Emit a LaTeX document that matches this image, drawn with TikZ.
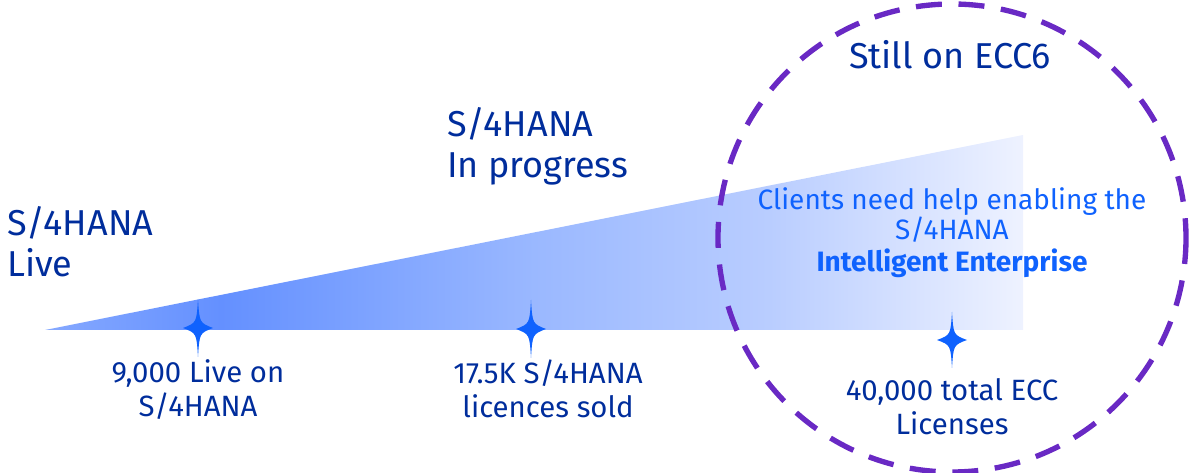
\documentclass[tikz,border=0pt]{standalone}
\usepackage{fontspec}
\setmainfont{Fira Sans}
\definecolor{navy}{HTML}{002D9C}
\definecolor{ibmblue}{HTML}{0F62FE}
\definecolor{violet}{HTML}{6929C4}
\definecolor{wA}{HTML}{86A9FF}
\definecolor{wB}{HTML}{6490FF}
\definecolor{wC}{HTML}{9AB8FF}
\definecolor{wD}{HTML}{B9CDFF}
\definecolor{wE}{HTML}{EEF2FF}
\pgfdeclarehorizontalshading{wedgeshade}{100bp}{color(0bp)=(wA); color(25bp)=(wA); color(34bp)=(wB); color(50bp)=(wC); color(62bp)=(wD); color(75bp)=(wE); color(100bp)=(wE)}
\tikzset{
  big/.style={text=navy, font=\fontsize{27}{31}\selectfont, inner sep=0pt},
  small/.style={text=navy, font=\fontsize{22}{26}\selectfont, inner sep=0pt, align=center},
  note/.style={text=ibmblue, font=\fontsize{21}{23}\selectfont, inner sep=0pt, align=center},
  sparkle/.style={fill=ibmblue, draw=none},
  ring/.style={draw=violet, line width=4pt, dash pattern=on 19.5pt off 12.5pt}
}
\newcommand{\sparkleat}[2]{%
  \fill[sparkle] (#1) ++(0,-#2) .. controls +(1.5,0.82*#2) .. ++(15,#2) .. controls +(-13.5,0.18*#2) .. ++(-15,#2) .. controls +(-1.5,-0.82*#2) .. ++(-15,-#2) .. controls +(13.5,-0.18*#2) .. ++(15,-#2) -- cycle;}
\begin{document}
\begin{tikzpicture}[x=0.75pt,y=-0.75pt]
\useasboundingbox (0,0) rectangle (1189,473);
% wedge
\shade[shading=wedgeshade] (45,330) -- (1023,135) -- (1023,330) -- cycle;
% circle
\draw[ring] (952,238) circle (234);
% stars
\coordinate (s1) at (198,328);
\coordinate (s2) at (531,329);
\coordinate (s3) at (952,340);
\sparkleat{s1}{29}
\sparkleat{s2}{29}
\sparkleat{s3}{28}
% texts
\node[big, anchor=base west, align=left] (live) at (7,277) {S/4HANA\\Live};
\node[big, anchor=base west, align=left] (prog) at (447,178) {S/4HANA\\In progress};
\node[big, anchor=base] (still) at (950,69) {Still on ECC6};
\node[small, anchor=base] (l1) at (198,417) {9,000 Live on\\S/4HANA};
\node[small, anchor=base] (l2) at (548,418) {17.5K S/4HANA\\licences sold};
\node[small, anchor=base] (l3) at (952,435) {40,000 total ECC\\Licenses};
\node[note, anchor=base] (help) at (952,272) {Clients need help enabling the\\S/4HANA\\[1pt]\textbf{Intelligent Enterprise}};
\end{tikzpicture}
\end{document}
